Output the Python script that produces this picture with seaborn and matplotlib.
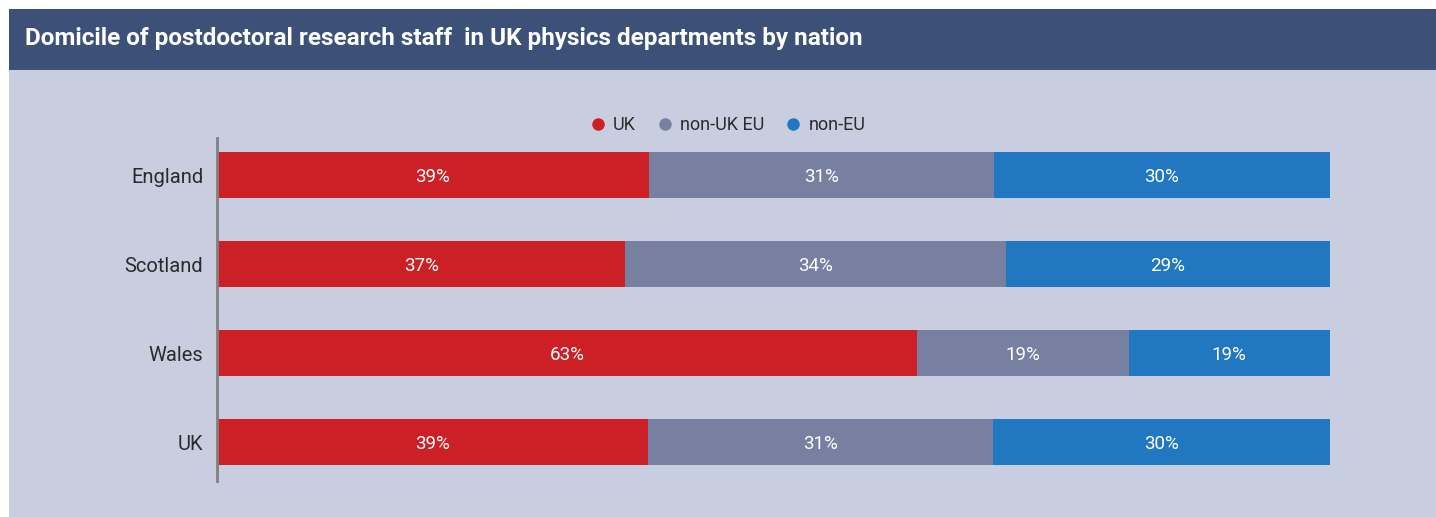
# ============================================================================
# LIBRARY IMPORTS
# ============================================================================
import numpy as np
import pandas as pd
import seaborn as sns
import matplotlib.pyplot as plt
from matplotlib.patches import Rectangle
from matplotlib.lines import Line2D

# ============================================================================
# DATA
# ============================================================================
nations = ['England', 'Scotland', 'Wales', 'UK']
series = ['UK', 'non-UK EU', 'non-EU']
uk_share = [38.8, 36.7, 62.9, 38.7]
eu_share = [31.0, 34.2, 19.0, 31.0]
non_eu_share = [30.2, 29.1, 18.1, 30.3]
uk_labels = ['39%', '37%', '63%', '39%']
eu_labels = ['31%', '34%', '19%', '31%']
non_eu_labels = ['30%', '29%', '19%', '30%']

colors = ['#cc1f26', '#7880a2', '#2278c0']
bg_color = '#c8cedf'
banner_color = '#3d5178'

# ============================================================================
# PREPARE CUMULATIVE TABLE (layered bars give a stacked look)
# ============================================================================
df = pd.DataFrame({'Nation': nations, 'UK': uk_share,
                   'non-UK EU': eu_share, 'non-EU': non_eu_share})
df['cum1'] = df['UK']
df['cum2'] = df['UK'] + df['non-UK EU']
df['cum3'] = df['cum2'] + df['non-EU']

# ============================================================================
# FIGURE
# ============================================================================
sns.set_theme(style='white')
plt.rcParams['font.family'] = ['Roboto', 'DejaVu Sans']

W, H = 1436, 517
fig = plt.figure(figsize=(W / 100, H / 100), dpi=100)
fig.patch.set_facecolor('white')

# light panel and dark title banner
fig.patches.append(Rectangle((9 / W, 0), 1, (H - 70) / H, transform=fig.transFigure,
                             facecolor=bg_color, edgecolor='none', zorder=-5))
fig.patches.append(Rectangle((9 / W, (H - 70) / H), 1, 61 / H, transform=fig.transFigure,
                             facecolor=banner_color, edgecolor='none', zorder=-5))
fig.text(25 / W, (H - 38) / H,
         'Domicile of postdoctoral research staff  in UK physics departments by nation',
         color='white', fontsize=17.5, fontweight='bold', va='center', ha='left')

ax = fig.add_axes([217 / W, (H - 481) / H, 1113 / W, 343 / H])
ax.set_facecolor('none')

for col, c in zip(['cum3', 'cum2', 'cum1'], colors[::-1]):
    sns.barplot(data=df, x=col, y='Nation', color=c, width=0.517,
                saturation=1, ax=ax, edgecolor='none', linewidth=0)

ax.set_xlim(0, df['cum3'].max())
ax.set_ylim(3 + 0.438, -0.416)

# value labels in the middle of each segment
label_sets = [uk_labels, eu_labels, non_eu_labels]
starts = [np.zeros(len(nations)), df['cum1'].values, df['cum2'].values]
widths = [df['UK'].values, df['non-UK EU'].values, df['non-EU'].values]
for labs, s, w in zip(label_sets, starts, widths):
    for i, (lab, x0, wd) in enumerate(zip(labs, s, w)):
        ax.text(x0 + wd / 2, i, lab, color='white', fontsize=13.5,
                ha='center', va='center_baseline')

# axes styling
ax.set_xlabel('')
ax.set_ylabel('')
ax.set_xticks([])
ax.tick_params(axis='y', length=0, labelsize=14.5, labelcolor='#2b2b2b', pad=10)
for side in ['top', 'right', 'bottom']:
    ax.spines[side].set_visible(False)
ax.spines['left'].set_color('#808080')
ax.spines['left'].set_linewidth(2)

# legend
handles = [Line2D([0], [0], marker='o', linestyle='none', markersize=9,
                  markerfacecolor=c, markeredgecolor='none') for c in colors]
fig.legend(handles, series, loc='center', bbox_to_anchor=(727 / W, (H - 125) / H),
           ncol=3, frameon=False, fontsize=13, handlelength=1.0, handletextpad=0.35,
           columnspacing=1.1, labelcolor='#2b2b2b')

# ============================================================================
# SAVE
# ============================================================================
fig.savefig('out.png', dpi=100)
